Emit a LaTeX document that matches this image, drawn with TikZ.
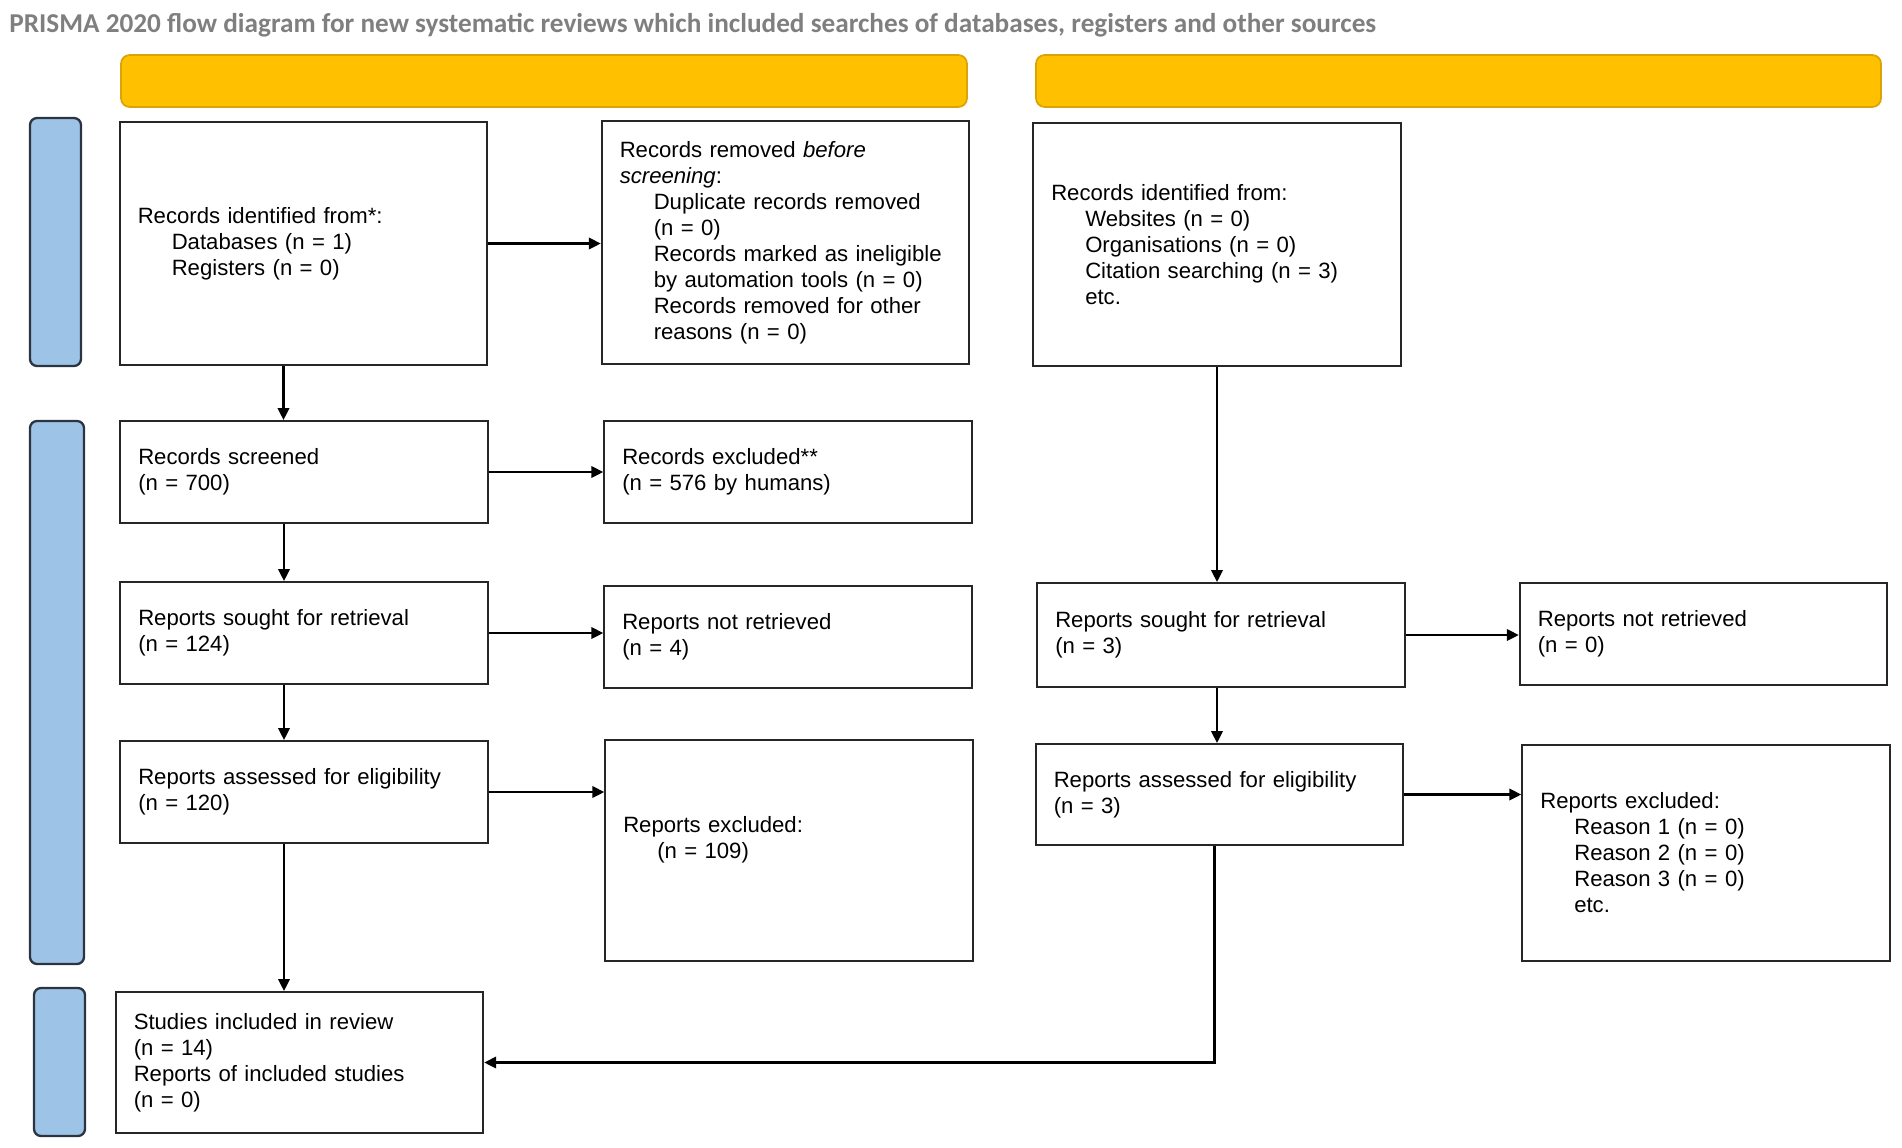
\documentclass[tikz,border=0pt]{standalone}
\usepackage{fontspec}
\setmainfont{Liberation Sans}
\newfontfamily\titlefont{Carlito}
\usetikzlibrary{arrows.meta, positioning}
\definecolor{prismaGold}{HTML}{FFC000}
\definecolor{goldEdge}{HTML}{D9A406}
\definecolor{prismaBlue}{HTML}{9DC3E6}
\definecolor{blueEdge}{HTML}{2B3440}
\definecolor{titleGrey}{HTML}{7F7F7F}
\newcommand{\indt}{\hspace*{6.8mm}}

\begin{document}
\begin{tikzpicture}[
   box/.style={rectangle, draw=black!85, line width=1.1pt, fill=white,
               minimum width=7.35cm, text width=6.63cm, inner xsep=3.6mm,
               align=left, font=\fontsize{12.6pt}{14.8pt}\selectfont},
   hdr/.style={rectangle, rounded corners=5pt, draw=goldEdge, line width=1pt,
               fill=prismaGold, minimum height=1.04cm},
   side/.style={rectangle, rounded corners=4pt, draw=blueEdge, line width=1.3pt,
                fill=prismaBlue, minimum width=1.02cm},
   arr/.style={-{Triangle[length=2.4mm, width=2.3mm]}, line width=1.2pt}]
\useasboundingbox (0,0) rectangle (38.04,-22.94);

\node[anchor=base west, inner sep=0, text=titleGrey,
      font=\titlefont\bfseries\fontsize{15.5pt}{17pt}\selectfont] (title) at (0.18,-0.64)
  {PRISMA 2020 flow diagram for new systematic reviews which included searches of databases, registers and other sources};

% headers and phase bars
\node[hdr, minimum width=16.92cm] (hdrL) at (10.88,-1.62) {};
\node[hdr, minimum width=16.90cm] (hdrR) at (29.17,-1.62) {};
\node[side, minimum height=4.96cm] (bar1) at (1.11,-4.84) {};
\node[side, minimum width=1.08cm, minimum height=10.86cm] (bar2) at (1.14,-13.85) {};
\node[side, minimum height=2.96cm] (bar3) at (1.19,-21.24) {};

% databases and registers
\node[box, minimum height=4.86cm] (ident) at (6.07,-4.87)
  {Records identified from*:\\ \indt Databases (n = 1)\\ \indt Registers (n = 0)};
\node[box, minimum height=4.86cm] (removed) at (15.71,-4.85)
  {Records removed \emph{before}\\ \emph{screening}:\\
   \indt Duplicate records removed\\ \indt (n = 0)\\
   \indt Records marked as ineligible\\ \indt by automation tools (n = 0)\\
   \indt Records removed for other\\ \indt reasons (n = 0)};
\node[box, minimum height=2.04cm] (screen) at (6.08,-9.44)
  {Records screened\\ (n = 700)};
\node[box, minimum height=2.04cm] (excl) at (15.76,-9.44)
  {Records excluded**\\ (n = 576 by humans)};
\node[box, minimum height=2.04cm] (sought) at (6.08,-12.66)
  {Reports sought for retrieval\\ (n = 124)};
\node[box, minimum height=2.04cm] (notret) at (15.76,-12.74)
  {Reports not retrieved\\ (n = 4)};
\node[box, minimum height=2.04cm] (assess) at (6.08,-15.84)
  {Reports assessed for eligibility\\ (n = 120)};
\node[box, minimum height=4.42cm] (repexcl) at (15.78,-17.01)
  {Reports excluded:\\ \indt (n = 109)\\ \mbox{}};
\node[box, minimum height=2.82cm] (incl) at (5.99,-21.25)
  {Studies included in review\\ (n = 14)\\ Reports of included studies\\ (n = 0)};

% other methods
\node[box, minimum height=4.86cm] (oident) at (24.34,-4.89)
  {Records identified from:\\ \indt Websites (n = 0)\\ \indt Organisations (n = 0)\\
   \indt Citation searching (n = 3)\\ \indt etc.};
\node[box, minimum height=2.08cm] (osought) at (24.42,-12.70)
  {Reports sought for retrieval\\ (n = 3)};
\node[box, minimum height=2.04cm] (onotret) at (34.07,-12.68)
  {Reports not retrieved\\ (n = 0)};
\node[box, minimum height=2.02cm] (oassess) at (24.39,-15.89)
  {Reports assessed for eligibility\\ (n = 3)};
\node[box, minimum height=4.32cm] (orepexcl) at (34.12,-17.06)
  {Reports excluded:\\ \indt Reason 1 (n = 0)\\ \indt Reason 2 (n = 0)\\
   \indt Reason 3 (n = 0)\\ \indt etc.};

\foreach \a/\b in {ident/removed, screen/excl, sought/notret, assess/repexcl,
                   osought/onotret, oassess/orepexcl}
  \draw[arr] (\a.east) -- (\a.east -| \b.west);
\foreach \a/\b in {ident/screen, screen/sought, sought/assess, assess/incl}
  \draw[arr] ([xshift=-4mm]\a.south) -- ([xshift=-4mm]\a.south |- \b.north);
\draw[arr] (oident.south) -- (oident.south |- osought.north);
\draw[arr] (oident.south |- osought.south) -- (oident.south |- oassess.north);
\draw[arr] ([xshift=-1mm]oassess.south) |- (incl.east);
\end{tikzpicture}
\end{document}
